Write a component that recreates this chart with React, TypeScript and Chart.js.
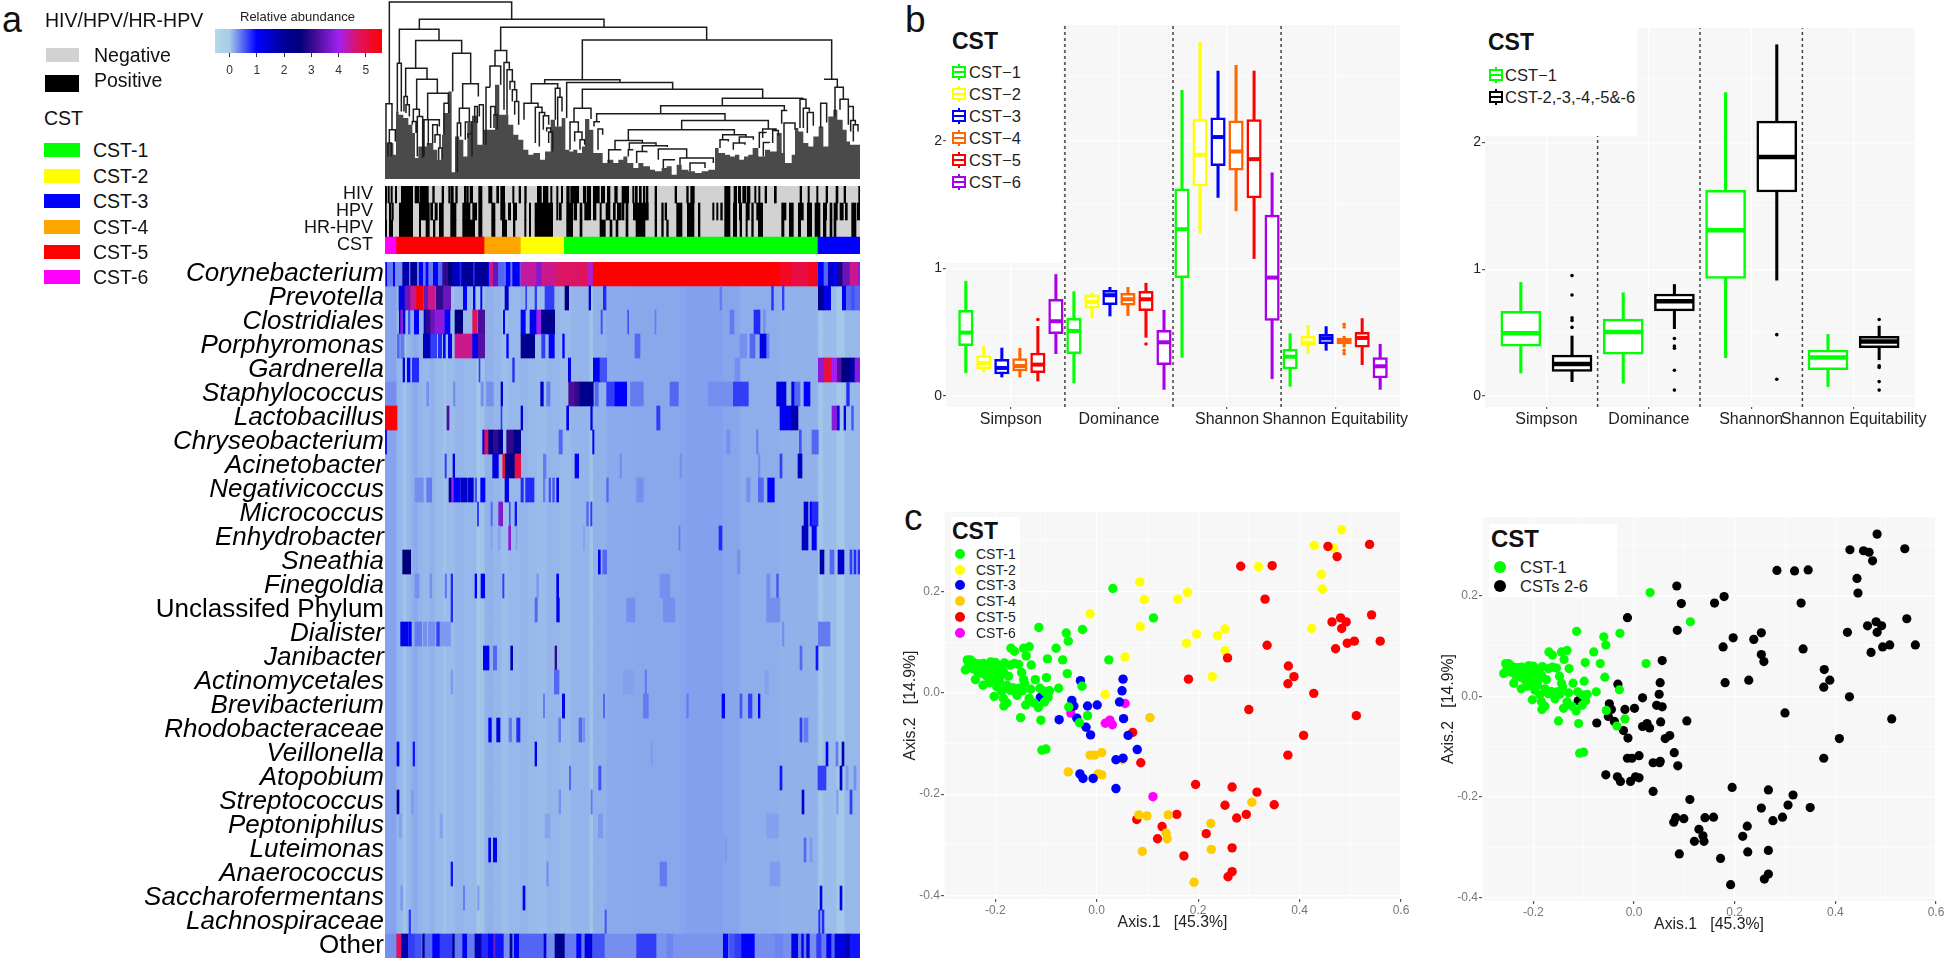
import React, { useEffect, useRef } from "react";
import { Chart, registerables } from "chart.js";

Chart.register(...registerables);
const SANS = "'Liberation Sans', Arial, sans-serif";
Chart.defaults.font.family = SANS;

// ---------- Panel a: heat map ----------
const taxa = ["Corynebacterium","Prevotella","Clostridiales","Porphyromonas","Gardnerella","Staphylococcus","Lactobacillus","Chryseobacterium","Acinetobacter","Negativicoccus","Micrococcus","Enhydrobacter","Sneathia","Finegoldia","Unclassifed Phylum","Dialister","Janibacter","Actinomycetales","Brevibacterium","Rhodobacteraceae","Veillonella","Atopobium","Streptococcus","Peptoniphilus","Luteimonas","Anaerococcus","Saccharofermentans","Lachnospiraceae","Other"];
const uprightTaxa = ["Unclassifed Phylum", "Other"];
const colorLevels = [-0.53, 0, 1, 2, 2.6, 3.2, 4, 4.7, 5.59];
const colorHexes = ["#B5D7EA", "#A8CCE8", "#0000FF", "#000099", "#00007A", "#4A0E9A", "#A020F0", "#DC1464", "#FF0000"];
const colorTicks = [0, 1, 2, 3, 4, 5];
const sampleMin = 15;
const sampleMax = 1440;
const baseBands = [[15,50,.2],[50,58,.12],[58,70,.1],[70,80,.04],[80,92,.1],[92,100,.13],[100,115,.16],[115,130,.12],[130,150,.1],[150,165,.13],[165,190,.09],[190,200,.05],[200,225,.08],[225,255,.12],[255,290,.1],[290,300,.03],[300,315,.05],[315,340,.13],[340,365,.11],[365,385,.07],[385,420,.1],[420,445,.12],[445,470,.1],[470,500,.08],[500,540,.11],[540,575,.09],[575,630,.12],[630,640,.04],[640,680,.13],[680,760,.17],[760,900,.18],[900,920,.2],[920,1030,.22],[1030,1080,.19],[1080,1200,.15],[1200,1315,.13],[1315,1330,.04],[1330,1370,.08],[1370,1395,.03],[1395,1440,.1]];
const heatStripes = [
 [[15,18,.5],[18,22,1],[22,40,.4],[40,46,1],[46,68,.3],[68,88,1.8],[88,92,.4],[92,112,2],[112,118,.4],[118,130,1],[130,138,.4],[138,146,1],[146,160,.4],[160,175,1],[175,188,.5],[188,205,3],[205,218,2.6],[218,240,1.6],[240,245,.8],[245,280,2],[280,285,.8],[285,325,2],[325,328,1],[328,340,4.5],[340,355,3.5],[355,362,.5],[362,375,.5],[375,378,.3],[378,392,1],[392,398,.4],[398,420,1.1],[420,423,.5],[423,470,4.4],[470,485,3.7],[485,530,4.5],[530,600,4.7],[600,625,4.8],[625,640,4.2],[640,1200,5.59],[1200,1235,5.3],[1235,1285,5],[1285,1315,5.3],[1315,1332,1],[1332,1345,.5],[1345,1360,1.5],[1360,1372,1],[1372,1388,2.8],[1388,1410,3.5],[1410,1435,4.5],[1435,1440,3.8]],
 [[57,75,1.3],[75,92,3.5],[92,110,4.5],[110,130,5.59],[132,145,3.5],[145,165,4.5],[168,188,3],[190,212,3.5],[250,260,1],[280,285,1],[302,306,1],[375,385,1.5],[437,440,.7],[465,470,.7],[495,522,.7],[555,566,2.5],[627,632,1.5],[670,678,.8],[1020,1025,.4],[1175,1180,.8],[1207,1212,.7],[1315,1332,2.2],[1332,1352,1.2],[1387,1398,1.2],[1400,1410,.5],[1412,1425,.6],[1425,1440,.5]],
 [[58,62,1.5],[62,70,3.8],[70,75,1.5],[85,90,.6],[103,116,1],[132,138,1.5],[138,152,3],[152,165,3.5],[165,195,3.8],[195,210,1],[225,248,2.5],[278,292,4.8],[295,314,3.2],[370,374,1],[423,436,1],[450,470,1.2],[470,484,4],[484,524,2.2],[663,667,.6],[743,746,.6],[825,828,.4],[1050,1062,.4],[1122,1140,.8],[1150,1156,.3]],
 [[52,58,.5],[62,72,.4],[130,152,1.7],[152,170,.7],[175,185,.8],[190,196,1],[205,215,1.3],[225,278,4.5],[278,295,1.1],[295,314,3.3],[380,385,1],[423,464,2.2],[485,495,.7],[507,523,1],[548,553,1],[765,780,.5],[1080,1100,.3],[1110,1125,.5],[1140,1160,1.2],[1160,1167,.4]],
 [[69,74,1.3],[82,90,1],[97,116,.8],[297,300,.7],[398,403,.8],[565,572,1.2],[640,660,1.1],[660,680,.6],[1065,1080,.3],[1315,1330,3.8],[1330,1355,5],[1355,1370,4],[1372,1385,3.3],[1385,1410,2.5],[1410,1425,1.8],[1425,1440,3.8]],
 [[15,48,.3],[140,146,.3],[220,225,.3],[303,310,.3],[320,340,.3],[363,368,1.5],[482,490,1.5],[500,510,.4],[566,585,3.2],[585,600,3],[600,640,2.2],[645,655,.5],[680,705,.7],[705,740,1],[752,790,.4],[870,895,.5],[985,1060,.3],[1060,1105,.7],[1190,1218,1.3],[1235,1243,1.2],[1245,1260,.5],[1272,1290,1],[1400,1408,.8]],
 [[15,51,5.59],[201,207,3.2],[363,366,.7],[423,428,1.5],[560,566,1.2],[632,637,1.3],[830,840,.7],[1200,1235,1.1],[1235,1254,1.8],[1356,1372,3.8],[1372,1378,1],[1392,1397,1.2],[1415,1420,.6]],
 [[15,20,.9],[308,314,1.2],[314,326,4.8],[326,340,2.2],[340,356,3],[356,368,2],[380,402,3],[402,422,2.2],[537,547,.5],[638,642,1.1],[1040,1050,.3],[1130,1134,.4],[1258,1264,.6],[1296,1315,.5]],
 [[195,199,.7],[219,224,1.2],[338,355,1.3],[368,376,5],[376,405,2.3],[405,422,5],[490,498,.4],[585,596,1],[720,725,.3],[900,905,.3],[1135,1140,.3],[1200,1206,.7],[1254,1266,1.6]],
 [[105,130,.3],[140,155,.4],[207,215,2],[215,222,4],[222,240,1],[242,262,1.5],[265,280,1.5],[285,290,.6],[302,315,1],[375,386,1.2],[423,430,.8],[437,462,.8],[490,495,.4],[507,512,.6],[518,523,.6],[530,536,1.2],[680,685,.5],[770,790,.3],[1100,1110,.3],[1135,1150,.5],[1163,1183,1]],
 [[292,296,.7],[333,337,.5],[356,368,3.7],[388,391,.6],[405,410,.9],[620,625,.5],[632,636,.7],[1272,1284,1.4],[1290,1296,1],[1296,1314,.8]],
 [[333,337,.2],[355,360,.2],[386,392,3.8],[408,412,.2],[610,614,.2],[897,900,.4],[1017,1026,.8],[1266,1284,1.6],[1296,1309,1.1]],
 [[68,92,2.6],[655,661,1.2],[668,680,.5],[1072,1080,.3],[1320,1332,1.8],[1350,1362,.5],[1374,1392,1.5],[1410,1416,.7],[1422,1428,.8],[1434,1440,.8]],
 [[105,117,.3],[150,155,.3],[195,200,.4],[213,218,.8],[285,290,1],[303,314,1.1],[368,372,.7],[470,476,.25],[530,536,1.1],[840,870,.3],[1160,1170,.3],[1190,1195,.6]],
 [[213,218,.8],[465,472,.5],[530,538,1.1],[740,765,.3],[850,885,.3],[1160,1200,.3]],
 [[62,84,1.2],[86,94,1],[105,125,.4],[130,140,.3],[145,165,.3],[170,180,.7],[180,212,.25],[1207,1212,.3],[1315,1350,.4]],
 [[310,327,1.1],[340,350,.5],[392,398,1.7],[525,530,3],[1260,1266,.5],[1308,1314,.9]],
 [[213,218,.25],[523,537,.5],[730,760,.22],[795,800,.4],[1155,1165,.22]],
 [[490,494,.4],[547,554,1.2],[670,674,.5],[790,805,.4],[920,925,.4],[1026,1034,1],[1080,1086,.6],[1105,1116,.7],[1135,1140,1]],
 [[326,334,1],[350,360,1.3],[387,395,.4],[410,420,.8],[536,542,.4],[597,605,.5],[608,614,.3],[1260,1266,.7],[1272,1284,.4]],
 [[51,57,1.1],[99,104,.9],[465,470,1.2],[813,817,.25],[1338,1344,1],[1368,1374,.4],[1386,1392,1.8]],
 [[568,572,.5],[656,663,.6],[1200,1206,.9],[1314,1338,.7],[1380,1386,1.5],[1398,1404,.25],[1422,1428,.3]],
 [[51,57,2],[95,100,.25],[537,542,.3],[633,637,.4],[1266,1272,1.5],[1370,1374,.25],[1410,1416,.7]],
 [[57,65,.2],[180,188,.2],[495,510,.2],[655,668,.25],[1160,1195,.22]],
 [[326,332,1.3],[340,350,1.2],[1035,1040,.25],[1272,1278,.5],[1290,1296,.25]],
 [[213,218,.9],[500,505,.3],[840,860,.4],[1170,1200,.24]],
 [[62,68,.25],[250,254,.4],[293,297,.25],[429,435,1.1],[1320,1326,1.2],[1380,1386,1.1]],
 [[87,92,.7],[675,679,.6],[1316,1320,.8],[1326,1332,.8]],
 [[15,50,.3],[50,65,4.7],[65,85,1.8],[85,105,.7],[105,125,.6],[125,128,.4],[128,135,2],[135,158,.5],[158,180,1],[180,218,.7],[218,225,2],[225,245,.4],[245,248,.4],[248,262,1.1],[262,285,.4],[285,305,1.7],[305,325,.8],[325,340,1],[340,348,3.5],[348,372,.9],[372,390,.3],[390,398,2],[398,403,.4],[403,418,1],[418,490,.5],[490,492,.5],[492,500,1.3],[500,525,.3],[525,555,2.2],[555,590,.4],[590,605,1],[605,615,.4],[615,638,1.3],[638,640,.5],[640,675,.6],[675,770,.3],[770,830,.7],[830,860,.28],[860,880,.35],[880,1030,.28],[1030,1045,1],[1045,1050,.5],[1050,1065,.6],[1065,1085,.7],[1085,1125,1],[1125,1185,.3],[1185,1210,.35],[1210,1235,.3],[1235,1255,1.2],[1255,1265,.4],[1265,1272,1.3],[1272,1280,.4],[1280,1290,1.3],[1290,1310,.3],[1310,1325,.7],[1325,1340,.4],[1340,1355,1.1],[1355,1365,.5],[1365,1400,1.3],[1400,1410,1.8],[1410,1440,.9]],
];

// ---------- Panel a: sample annotation ----------
const annotationRows = ["HIV", "HPV", "HR-HPV", "CST"];
const hivPositive = [[16,20],[24,28],[33,37],[46,50],[64,98],[105,117],[120,145],[158,163],[186,191],[206,211],[214,220],[227,232],[253,258],[260,265],[270,278],[296,306],[326,336],[350,356],[362,374],[398,402],[417,422],[434,439],[472,484],[490,504],[512,516],[530,534],[544,548],[560,568],[572,596],[610,618],[622,632],[640,658],[664,674],[682,690],[704,712],[726,746],[758,762],[766,772],[778,784],[790,794],[798,804],[825,830],[885,890],[920,925],[932,943],[1034,1050],[1062,1070],[1075,1082],[1088,1098],[1102,1110],[1124,1128],[1136,1140],[1155,1160],[1183,1189],[1260,1265],[1284,1288],[1310,1314],[1338,1343],[1368,1374],[1392,1397],[1436,1440]];
const hpvPositive = [[15,19],[28,33],[36,40],[58,98],[118,148],[152,158],[165,172],[178,190],[212,228],[248,270],[278,290],[296,306],[335,345],[362,375],[385,392],[400,410],[434,438],[448,452],[465,518],[530,534],[538,544],[560,578],[582,590],[600,606],[614,632],[640,648],[660,664],[678,690],[700,706],[712,722],[725,732],[738,744],[760,805],[825,830],[845,850],[855,860],[890,906],[922,942],[955,960],[998,1002],[1010,1014],[1022,1027],[1034,1050],[1060,1070],[1078,1085],[1098,1108],[1115,1120],[1130,1148],[1205,1218],[1228,1240],[1255,1270],[1282,1295],[1305,1320],[1330,1340],[1350,1356],[1362,1372],[1380,1390],[1396,1402],[1415,1428],[1432,1440]];
const hrHpvPositive = [[16,20],[28,38],[58,98],[118,122],[138,148],[160,165],[178,190],[212,228],[248,284],[296,306],[335,345],[367,380],[400,405],[434,438],[448,452],[465,518],[560,578],[600,606],[660,676],[690,696],[708,714],[738,744],[768,795],[825,830],[845,850],[860,865],[890,906],[922,942],[955,960],[1034,1050],[1060,1070],[1080,1085],[1098,1102],[1115,1120],[1135,1148],[1205,1212],[1228,1240],[1255,1262],[1282,1295],[1305,1320],[1330,1338],[1350,1356],[1362,1368],[1415,1428]];
const cstSpans = [[15,50,"#FF00FF"],[50,314,"#FF0000"],[314,423,"#FFA500"],[423,553,"#FFFF00"],[553,1314,"#00FF00"],[1314,1440,"#0000FF"]];

// ---------- Panel a: dendrogram (positions along samples, depth from top) ----------
const dendroDepthMax = 538;
const dendroCanopy = [[15,475],[40,430],[48,465],[56,335],[70,345],[85,355],[97,375],[105,400],[115,475],[140,440],[160,430],[172,450],[186,480],[190,405],[205,340],[215,275],[225,518],[238,410],[250,420],[262,470],[276,370],[292,348],[310,435],[325,390],[345,390],[358,255],[370,345],[385,345],[400,375],[415,405],[430,420],[445,450],[460,465],[480,460],[495,480],[512,455],[525,360],[545,380],[556,355],[568,450],[580,455],[592,450],[606,460],[615,440],[628,358],[640,390],[650,460],[668,460],[682,490],[700,480],[715,490],[730,480],[742,470],[760,490],[775,505],[790,490],[810,500],[825,510],[845,515],[860,505],[875,500],[890,525],[905,495],[925,510],[945,515],[965,520],[985,515],[1005,510],[1016,445],[1035,460],[1050,465],[1065,470],[1078,465],[1092,480],[1105,470],[1118,465],[1135,445],[1155,470],[1170,450],[1190,455],[1205,400],[1215,460],[1235,490],[1245,465],[1255,385],[1270,395],[1285,430],[1300,440],[1316,410],[1330,380],[1345,440],[1360,350],[1372,330],[1388,360],[1400,390],[1410,425],[1425,435],[1440,435]];
const dendroLinks = [[28,395,312,58,6],[118,672,88,82,58],[58,177,190,122,88],[107,245,205,160,122],[77,141,290,238,205],[110,172,328,280,238],[143,205,360,310,280],[218,272,275,252,160],[248,295,325,290,252],[362,980,152,120,82],[345,380,198,188,152],[330,362,262,255,198],[372,388,330,210,188],[381,397,345,245,210],[390,404,270,270,245],[397,410,305,305,270],[404,416,345,375,305],[607,1355,240,238,120],[494,720,252,248,240],[454,533,310,265,252],[432,474,360,322,310],[466,486,430,338,322],[478,494,440,348,338],[490,506,390,375,348],[500,512,395,400,385],[506,518,430,455,397],[526,540,360,292,265],[533,546,380,335,292],[560,878,355,268,248],[607,1148,325,295,268],[582,633,365,358,325],[570,595,450,397,367],[584,606,425,420,397],[600,614,450,435,420],[1027,1268,318,298,295],[842,1213,342,332,318],[650,1035,366,362,342],[642,660,380,366,366],[654,668,450,405,388],[905,1165,390,388,362],[745,1063,420,405,390],[705,787,450,428,422],[686,724,490,450,450],[748,828,450,438,430],[745,760,470,450,450],[787,862,455,442,438],[770,800,490,458,455],[835,920,480,475,448],[850,885,505,480,480],[900,1000,495,490,475],[930,975,515,505,490],[1028,1098,420,412,405],[1020,1045,445,425,420],[1078,1120,430,420,412],[1060,1095,450,435,430],[1148,1188,415,395,388],[1138,1158,445,400,398],[1150,1168,470,430,428],[1178,1195,430,408,392],[1205,1222,372,332,332],[1212,1245,460,390,370],[1260,1278,385,325,298],[1270,1288,385,335,325],[1282,1300,400,378,338],[1322,1340,385,368,310],[1332,1372,238,262,238],[1365,1390,350,298,262],[1380,1405,330,320,298],[1405,1420,375,362,320],[1412,1426,395,375,362],[1420,1434,425,395,375],[18,36,430,390,312],[28,46,430,425,390],[24,34,470,470,430],[52,64,335,335,190],[72,82,335,315,290],[78,88,340,350,315],[97,108,375,400,365],[100,118,365,350,328],[112,128,470,475,350],[132,165,470,360,360],[145,178,435,380,360],[158,172,430,405,375],[165,180,430,445,405],[176,186,480,480,445],[192,206,405,340,310],[232,242,518,410,370],[238,268,370,367,325],[256,276,420,402,367],[264,276,415,470,402],[284,292,370,370,320],[298,310,350,435,315],[318,330,435,262,262],[332,345,385,345,320],[342,352,385,390,345]];

// ---------- Panel b: diversity index box plots [low, q1, median, q3, high] ----------
const indexNames = ["Simpson", "Dominance", "Shannon", "Shannon Equitability"];
const cstNames = ["CST\u22121", "CST\u22122", "CST\u22123", "CST\u22124", "CST\u22125", "CST\u22126"];
const boxColors = ["#00FF00", "#FFFF00", "#0000FF", "#FF6600", "#FF0000", "#A800E8"];
const simpsonStats = [[.183,.395,.497,.672,.9],[.188,.214,.259,.316,.392],[.149,.173,.22,.288,.376],[.149,.196,.235,.293,.374],[.118,.183,.246,.337,.546],[.332,.489,.586,.758,.952]];
const dominanceStats = [[.102,.332,.51,.609,.818],[.612,.688,.737,.792,.808],[.627,.716,.79,.829,.852],[.63,.711,.758,.805,.852],[.46,.669,.758,.821,.884],[.052,.246,.421,.515,.672]];
const shannonStats = [[.303,.928,1.307,1.624,2.395],[1.273,1.647,1.89,2.17,2.771],[1.556,1.804,2.029,2.18,2.546],[1.451,1.77,1.916,2.157,2.591],[1.077,1.553,1.856,2.165,2.546],[.136,.593,.928,1.417,1.749]];
const equitabilityStats = [[.076,.212,.308,.366,.489],[.332,.397,.418,.468,.554],[.358,.41,.452,.484,.544],[.384,.408,.431,.452,.468],[.246,.382,.455,.499,.607],[.052,.141,.233,.301,.405]];
const outliersBySeries = [[], [], [], [[4,.562],[4,.541],[4,.358],[4,.332]], [[1,.599],[2,.408]], []];
const groupedColors = ["#00FF00", "#000000"];
const groupedNames = ["CST\u22121", "CST-2,-3,-4,-5&-6"];
const simpsonGrouped = [[.182,.393,.494,.668,.895],[.114,.195,.252,.322,.473]];
const dominanceGrouped = [[.101,.33,.505,.606,.814],[.531,.671,.746,.804,.879]];
const shannonGrouped = [[.302,.926,1.306,1.62,2.39],[.913,1.607,1.883,2.166,2.767]];
const equitabilityGrouped = [[.075,.208,.304,.362,.486],[.286,.382,.429,.471,.551]];
const groupedOutliers = [[1,.949],[1,.796],[1,.616],[1,.596],[1,.541],[2,.453],[2,.395],[2,.377],[2,.203],[2,.047],[3,.484],[3,.133],[4,.603],[4,.239],[4,.226],[4,.114],[4,.047]];

// ---------- Panel c: ordination ----------
const cst1Points = [[.032,.206],[.112,.148],[-.114,.129],[-.06,.118],[-.056,.102],[-.028,.125],[-.08,.088],[-.169,.088],[-.162,.082],[-.144,.088],[-.133,.091],[-.139,.073],[-.097,.067],[-.067,.065],[.024,.065],[-.129,.055],[-.058,.038],[-.099,.03],[-.121,.026],[-.148,.04],[-.029,.013],[-.075,.009],[-.255,.065],[-.249,.065],[-.259,.045],[-.252,.055],[-.245,.048],[-.237,.057],[-.23,.057],[-.223,.058],[-.209,.061],[-.204,.051],[-.194,.054],[-.189,.045],[-.182,.059],[-.17,.055],[-.162,.058],[-.154,.056],[-.235,.042],[-.225,.038],[-.239,.026],[-.216,.032],[-.224,.015],[-.204,.025],[-.191,.032],[-.174,.033],[-.197,.012],[-.177,.015],[-.187,.003],[-.17,.005],[-.153,.009],[-.142,.019],[-.144,.026],[-.13,.007],[-.147,.004],[-.157,-.005],[-.202,-.007],[-.184,-.011],[-.177,-.02],[-.183,-.026],[-.14,-.024],[-.133,-.011],[-.123,-.02],[-.115,-.029],[-.112,.009],[-.103,.003],[-.093,.004],[-.096,-.009],[-.103,-.018],[-.15,-.049],[-.11,-.054],[-.108,-.113],[-.1,-.111],[-.055,-.028],[-.018,-.045],[-.034,-.059],[-.215,.048],[-.221,.046],[-.198,.042],[-.21,.042],[-.184,.042],[-.243,.06],[-.23,.045],[-.218,.055],[-.2,.06],[-.192,.022],[-.212,.02],[-.165,.01]];
const cst2Points = [[.483,.322],[.429,.291],[.467,.286],[.319,.249],[.443,.234],[.445,.205],[.085,.219],[.094,.184],[.16,.185],[.179,.198],[-.013,.156],[.086,.131],[.424,.127],[.253,.126],[.197,.116],[.238,.113],[.177,.098],[.253,.083],[.056,.071],[.228,.032],[.017,-.003]];
const cst3Points = [[-.032,.024],[.052,.027],[.05,.004],[-.111,-.009],[-.049,-.015],[-.045,-.026],[-.018,-.026],[.001,-.024],[.045,-.018],[-.074,-.053],[-.039,-.05],[-.021,-.068],[-.012,-.083],[.053,-.051],[.062,-.084],[.08,-.112],[.052,-.129],[.038,-.132],[-.033,-.16],[-.027,-.169],[-.007,-.169],[.038,-.189]];
const cst4Points = [[.105,-.049],[.01,-.118],[-.004,-.123],[-.013,-.123],[-.056,-.156],[.003,-.16],[.01,-.162],[.051,-.132],[.306,-.216],[.083,-.241],[.099,-.243],[.141,-.241],[.225,-.258],[.137,-.277],[.139,-.288],[.226,-.309],[.09,-.313],[.192,-.374]];
const cst5Points = [[.284,.25],[.346,.251],[.456,.289],[.474,.269],[.538,.293],[.332,.185],[.464,.14],[.481,.148],[.492,.14],[.483,.127],[.542,.154],[.336,.094],[.508,.102],[.494,.098],[.559,.102],[.471,.087],[.258,.069],[.378,.053],[.389,.032],[.377,.018],[.181,.027],[.428,-.001],[.3,-.033],[.512,-.045],[.408,-.084],[.377,-.123],[.071,-.078],[.087,-.138],[.195,-.181],[.267,-.186],[.316,-.196],[.253,-.222],[.35,-.221],[.295,-.24],[.276,-.247],[.158,-.24],[.079,-.25],[.129,-.264],[.12,-.288],[.216,-.278],[.267,-.306],[.172,-.322],[.267,-.353],[.259,-.363]];
const cst6Points = [[.056,-.021],[-.051,-.04],[.017,-.06],[.026,-.054],[.031,-.063],[.111,-.205]];
const scatterColors = { c1: "#00FF00", c2: "#FFFF00", c3: "#0000FF", c4: "#FFCC00", c5: "#FF0000", c6: "#FF00FF" };
const axis1Ticks = [-0.2, 0, 0.2, 0.4, 0.6];
const axis2Ticks = [-0.4, -0.2, 0, 0.2];

// ---------- helpers ----------
const hexToRgb = (h: string) => [parseInt(h.slice(1, 3), 16), parseInt(h.slice(3, 5), 16), parseInt(h.slice(5, 7), 16)];
function heatColor(level: number) {
  for (let i = 1; i < colorLevels.length; i++) {
    if (level <= colorLevels[i]) {
      const t = (level - colorLevels[i - 1]) / (colorLevels[i] - colorLevels[i - 1]);
      const a = hexToRgb(colorHexes[i - 1]);
      const b = hexToRgb(colorHexes[i]);
      return `rgb(${a.map((v, k) => Math.round(v + (b[k] - v) * t)).join(",")})`;
    }
  }
  return colorHexes[colorHexes.length - 1];
}
const plotBg = { id: "plotBg", beforeDraw(chart: any) { const a = chart.chartArea; chart.ctx.save(); chart.ctx.fillStyle = "#F7F7F7"; chart.ctx.fillRect(a.left, a.top, a.width, a.height); chart.ctx.restore(); } };
const baseOpts = (padTop: number, padRight: number, padBottom = 0) => ({
  responsive: false, maintainAspectRatio: false, animation: false as const,
  layout: { padding: { top: padTop, right: padRight, left: 0, bottom: padBottom } },
  plugins: { legend: { display: false }, tooltip: { enabled: false } },
  events: [] as string[],
});

function Panel({ plot, axisW, axisH, padT, padR, make }: any) {
  const ref = useRef<HTMLCanvasElement>(null);
  const left = plot.l - axisW, top = plot.t - padT;
  const width = plot.r - plot.l + axisW + padR, height = plot.b - plot.t + padT + axisH;
  useEffect(() => {
    const c = new Chart(ref.current as any, make({ axisW, axisH, padT, padR }));
    return () => c.destroy();
  }, []);
  return <canvas ref={ref} width={width} height={height} style={{ position: "absolute", left, top, width, height }} />;
}

const Txt = ({ x, y, size, bold, color, children }: any) => (
  <span style={{ position: "absolute", left: x, top: y, transform: "translateY(-50%)", fontFamily: SANS, fontSize: size, fontWeight: bold ? 700 : 400, color: color || "#111", whiteSpace: "pre", lineHeight: 1 }}>{children}</span>
);
const Sw = ({ x, y, w, h, c }: any) => <div style={{ position: "absolute", left: x, top: y, width: w, height: h, background: c }} />;
const Dot = ({ x, y, d, c }: any) => <div style={{ position: "absolute", left: x - d / 2, top: y - d / 2, width: d, height: d, borderRadius: "50%", background: c }} />;
const BoxKey = ({ x, y, c }: any) => (
  <svg width={14} height={16} style={{ position: "absolute", left: x, top: y - 8 }}>
    <line x1={7} x2={7} y1={0} y2={16} stroke={c} strokeWidth={2} />
    <rect x={1} y={3} width={12} height={10} fill="#fff" stroke={c} strokeWidth={2} />
    <line x1={1} x2={13} y1={8} y2={8} stroke={c} strokeWidth={2} />
  </svg>
);

// ---------- chart configs ----------
function heatConfig({ axisW, axisH, padT }: any) {
  const base: any[] = [];
  const stripes: any[] = [];
  taxa.forEach((t, r) => {
    baseBands.forEach(([s, e, level]) => base.push({ y: t, x: [s, e], level }));
    heatStripes[r].forEach(([s, e, level]) => stripes.push({ y: t, x: [s, e], level }));
  });
  const color = (ctx: any) => (ctx.raw ? heatColor(ctx.raw.level) : "transparent");
  return {
    type: "bar",
    data: { labels: taxa, datasets: [
      { data: stripes, backgroundColor: color, grouped: false, barThickness: 24, order: 1 },
      { data: base, backgroundColor: color, grouped: false, barThickness: 24, order: 2 },
    ] },
    options: { ...baseOpts(padT, 0, axisH), indexAxis: "y",
      scales: {
        x: { type: "linear", min: sampleMin, max: sampleMax, display: false },
        y: { type: "category", afterFit: (s: any) => { s.width = axisW; }, grid: { display: false, drawTicks: false }, border: { display: false },
          ticks: { autoSkip: false, padding: 1, color: "#000", font: (ctx: any) => ({ family: SANS, size: 26, style: uprightTaxa.includes(taxa[ctx.index]) ? "normal" : "italic" }) } },
      } },
  };
}

function annotationConfig({ axisW, axisH, padT }: any) {
  const rows = [hivPositive, hpvPositive, hrHpvPositive];
  const gray = annotationRows.slice(0, 3).map((r) => ({ y: r, x: [sampleMin, sampleMax] }));
  const black: any[] = [];
  rows.forEach((spans, i) => spans.forEach(([s, e]) => black.push({ y: annotationRows[i], x: [s, e] })));
  const cst = cstSpans.map(([s, e, c]) => ({ y: "CST", x: [s, e], c }));
  return {
    type: "bar",
    data: { labels: annotationRows, datasets: [
      { data: cst, backgroundColor: (ctx: any) => ctx.raw?.c, grouped: false, barThickness: 17, order: 1 },
      { data: black, backgroundColor: "#000", grouped: false, barThickness: 17, order: 2 },
      { data: gray, backgroundColor: "#D2D2D2", grouped: false, barThickness: 17, order: 3 },
    ] },
    options: { ...baseOpts(padT, 0, axisH), indexAxis: "y",
      scales: {
        x: { type: "linear", min: sampleMin, max: sampleMax, display: false },
        y: { type: "category", afterFit: (s: any) => { s.width = axisW; }, grid: { display: false, drawTicks: false }, border: { display: false },
          ticks: { autoSkip: false, padding: 12, color: "#111", font: { size: 18 } } },
      } },
  };
}

function dendroConfig() {
  const links: any[] = [];
  dendroLinks.forEach(([xl, xr, yl, yr, top]) => {
    links.push({ x: xl, y: yl }, { x: xl, y: top }, { x: xr, y: top }, { x: xr, y: yr }, { x: null, y: null });
  });
  return {
    type: "scatter",
    data: { datasets: [
      { type: "scatter", data: links, showLine: true, spanGaps: false, borderColor: "#1c1c1c", borderWidth: 1.5, pointRadius: 0, order: 1 },
      { type: "line", data: dendroCanopy.map(([x, y]) => ({ x, y })), stepped: "after", fill: { value: dendroDepthMax }, backgroundColor: "#4A4A4A", borderWidth: 0, borderColor: "#4A4A4A", pointRadius: 0, order: 2 },
    ] },
    options: { ...baseOpts(0, 0),
      scales: {
        x: { type: "linear", min: sampleMin, max: sampleMax, display: false },
        y: { type: "linear", min: 0, max: dendroDepthMax, reverse: true, display: false },
      } },
  };
}

function colorbarConfig({ axisH, padT, padR }: any) {
  return {
    type: "bar",
    data: { labels: ["abundance"], datasets: [{
      data: [{ y: "abundance", x: [colorLevels[0], colorLevels[colorLevels.length - 1]] }], barThickness: 24, grouped: false,
      backgroundColor: (ctx: any) => {
        const a = ctx.chart.chartArea;
        if (!a) return "#00f";
        const g = ctx.chart.ctx.createLinearGradient(a.left, 0, a.right, 0);
        const lo = colorLevels[0], hi = colorLevels[colorLevels.length - 1];
        colorLevels.forEach((l, i) => g.addColorStop((l - lo) / (hi - lo), colorHexes[i]));
        return g;
      },
    }] },
    options: { ...baseOpts(padT, padR), indexAxis: "y",
      scales: {
        x: { type: "linear", min: colorLevels[0], max: colorLevels[colorLevels.length - 1],
          afterFit: (s: any) => { s.height = axisH; },
          afterBuildTicks: (s: any) => { s.ticks = colorTicks.map((value) => ({ value })); },
          grid: { drawOnChartArea: false, tickLength: 4, color: "#333" }, border: { display: false },
          ticks: { padding: 6, color: "#333", font: { size: 12 }, autoSkip: false, maxRotation: 0 } },
        y: { type: "category", display: false },
      } },
  };
}

function boxConfig(stats: number[][][], colors: string[], offsets: number[], boxW: number, medW: number, outliers: any[], outlierColors: string[], yRange: number[]) {
  return ({ axisW, axisH, padT, padR }: any) => {
    const ds: any[] = [];
    colors.forEach((c, i) => {
      const pts = stats.map((g, k) => ({ x: k + 1 + offsets[i], s: g[i] }));
      ds.push({ type: "scatter", data: pts.map((p) => ({ x: p.x, y: p.s[2] })), pointStyle: "line", pointRadius: boxW / 2 - 0.5, pointBorderWidth: medW, pointBorderColor: c, borderColor: c, order: 1 });
      ds.push({ type: "bar", data: pts.map((p) => ({ x: p.x, y: [p.s[1], p.s[3]] })), backgroundColor: "#fff", borderColor: c, borderWidth: 2.5, borderSkipped: false, barThickness: boxW, grouped: false, order: 2 });
      ds.push({ type: "bar", data: pts.map((p) => ({ x: p.x, y: [p.s[0], p.s[4]] })), backgroundColor: c, barThickness: 2.4, grouped: false, order: 3 });
      ds.push({ type: "scatter", data: outliers[i].map(([g, v]: number[]) => ({ x: g + offsets[i], y: v })), pointRadius: 1.8, pointBackgroundColor: outlierColors[i], pointBorderWidth: 0, order: 1 });
    });
    [1.5, 2.5, 3.5].forEach((x) => ds.push({ type: "line", data: [{ x, y: yRange[0] }, { x, y: yRange[1] }], borderColor: "#444", borderWidth: 1.5, borderDash: [3, 3], pointRadius: 0, order: 4 }));
    return {
      type: "bar",
      data: { datasets: ds },
      options: { ...baseOpts(padT, padR),
        scales: {
          x: { type: "linear", offset: false, min: 0.4, max: 4.6, afterFit: (s: any) => { s.height = axisH; },
            afterBuildTicks: (s: any) => { s.ticks = [1, 2, 3, 4].map((value) => ({ value })); },
            grid: { offset: false, color: "#fff", lineWidth: 1.2, tickColor: "#555", tickLength: 2 }, border: { display: false },
            ticks: { autoSkip: false, maxRotation: 0, padding: 1, color: "#222", font: { size: 16 }, callback: (v: number) => indexNames[v - 1] } },
          y: { type: "linear", min: yRange[0], max: yRange[1], afterFit: (s: any) => { s.width = axisW; },
            afterBuildTicks: (s: any) => { s.ticks = [0, .5, 1, 1.5, 2, 2.5].map((value) => ({ value })); },
            grid: { color: "#fff", tickLength: 3, lineWidth: (ctx: any) => (ctx.tick && ctx.tick.value % 1 === 0 ? 1.2 : 0.6), tickColor: (ctx: any) => (ctx.tick && ctx.tick.value % 1 === 0 ? "#555" : "transparent") }, border: { display: false },
            ticks: { autoSkip: false, padding: 1, color: "#222", font: { size: 14 }, callback: (v: number) => (v % 1 === 0 ? String(v) : "") } },
        } },
      plugins: [plotBg],
    };
  };
}

function scatterConfig(sets: any[], xRange: number[], yRange: number[], radius: number) {
  return ({ axisW, axisH, padT, padR }: any) => ({
    type: "scatter",
    data: { datasets: sets.map(([points, color]) => ({ data: points.map(([x, y]: number[]) => ({ x, y })), backgroundColor: color, pointRadius: radius, pointBorderWidth: 0 })) },
    options: { ...baseOpts(padT, padR),
      scales: {
        x: { type: "linear", min: xRange[0], max: xRange[1], afterFit: (s: any) => { s.height = axisH; },
          afterBuildTicks: (s: any) => { s.ticks = [-.3, -.2, -.1, 0, .1, .2, .3, .4, .5, .6].map((value) => ({ value })); },
          grid: { color: "#fff", tickLength: 3, lineWidth: (c: any) => (c.tick && axis1Ticks.some((t) => Math.abs(t - c.tick.value) < 1e-6) ? 1.2 : 0.6), tickColor: (c: any) => (c.tick && axis1Ticks.some((t) => Math.abs(t - c.tick.value) < 1e-6) ? "#555" : "transparent") }, border: { display: false },
          title: { display: true, text: "Axis.1   [45.3%]", color: "#222", font: { size: 15.8 }, padding: 0 },
          ticks: { autoSkip: false, maxRotation: 0, padding: 1, color: "#777", font: { size: 12 }, callback: (v: number) => (axis1Ticks.some((t) => Math.abs(t - v) < 1e-6) ? v.toFixed(1) : "") } },
        y: { type: "linear", min: yRange[0], max: yRange[1], afterFit: (s: any) => { s.width = axisW; },
          afterBuildTicks: (s: any) => { s.ticks = [-.4, -.3, -.2, -.1, 0, .1, .2, .3].map((value) => ({ value })); },
          grid: { color: "#fff", tickLength: 3, lineWidth: (c: any) => (c.tick && axis2Ticks.some((t) => Math.abs(t - c.tick.value) < 1e-6) ? 1.2 : 0.6), tickColor: (c: any) => (c.tick && axis2Ticks.some((t) => Math.abs(t - c.tick.value) < 1e-6) ? "#555" : "transparent") }, border: { display: false },
          title: { display: true, text: "Axis.2   [14.9%]", color: "#222", font: { size: 15.8 }, padding: 0 },
          ticks: { autoSkip: false, padding: 1, color: "#777", font: { size: 12 }, callback: (v: number) => (axis2Ticks.some((t) => Math.abs(t - v) < 1e-6) ? v.toFixed(1) : "") } },
      } },
    plugins: [plotBg],
  });
}

const bStats = [simpsonStats, dominanceStats, shannonStats, equitabilityStats];
const bGrouped = [simpsonGrouped, dominanceGrouped, shannonGrouped, equitabilityGrouped];
const legendColors = ["#00FF00", "#FFFF00", "#0000FF", "#FFA500", "#FF0000", "#FF00FF"];
const legendNames = ["CST-1", "CST-2", "CST-3", "CST-4", "CST-5", "CST-6"];
const legendSwatchTops = [143, 169, 194, 220, 245, 270];
const bLegendYs = [72, 94, 116, 138, 160, 182];
const cLegendYs = [554, 570, 585, 601, 617, 633];
const cLegendColors = [scatterColors.c1, scatterColors.c2, scatterColors.c3, scatterColors.c4, scatterColors.c5, scatterColors.c6];
const otherPoints = [...cst2Points, ...cst3Points, ...cst4Points, ...cst5Points, ...cst6Points];

export default function App() {
  return (
    <div style={{ position: "absolute", left: 0, top: 0, width: 1946, height: 961, overflow: "hidden", background: "#fff" }}>
      {/* panel a */}
      <Panel plot={{ l: 385, t: 0, r: 860, b: 179 }} axisW={0} axisH={0} padT={0} padR={0} make={dendroConfig} />
      <Panel plot={{ l: 385, t: 186, r: 860, b: 254 }} axisW={105} axisH={32} padT={32} padR={0} make={annotationConfig} />
      <Panel plot={{ l: 385, t: 262, r: 860, b: 958 }} axisW={250} axisH={24} padT={24} padR={0} make={heatConfig} />
      <Panel plot={{ l: 215, t: 29, r: 382, b: 53 }} axisW={0} axisH={28} padT={0} padR={10} make={colorbarConfig} />
      <Txt x={240} y={16} size={13} color="#222">Relative abundance</Txt>
      <Txt x={2} y={20} size={36}>a</Txt>
      <Txt x={45} y={21} size={19.5}>HIV/HPV/HR-HPV</Txt>
      <Sw x={46} y={48} w={33} h={14} c="#D2D2D2" />
      <Sw x={45} y={75} w={34} h={17} c="#000" />
      <Txt x={94} y={56} size={19.5}>Negative</Txt>
      <Txt x={94} y={81} size={19.5}>Positive</Txt>
      <Txt x={44} y={119} size={19.5}>CST</Txt>
      {legendNames.map((n, i) => (
        <React.Fragment key={n}>
          <Sw x={44} y={legendSwatchTops[i]} w={36} h={14} c={legendColors[i]} />
          <Txt x={93} y={legendSwatchTops[i] + 8} size={19.5}>{n}</Txt>
        </React.Fragment>
      ))}

      {/* panel b */}
      <Txt x={905} y={19} size={37}>b</Txt>
      <Panel plot={{ l: 946, t: 25, r: 1400, b: 407 }} axisW={20} axisH={30} padT={20} padR={90}
        make={boxConfig(bStats, boxColors, [-2.5, -1.5, -.5, .5, 1.5, 2.5].map((v) => v / 6), 14.5, 4, outliersBySeries, boxColors, [-0.086, 2.907])} />
      <div style={{ position: "absolute", left: 946, top: 25, width: 116, height: 238, background: "#fff" }} />
      <Txt x={952} y={41} size={23} bold>CST</Txt>
      {cstNames.map((n, i) => (
        <React.Fragment key={n}>
          <BoxKey x={952} y={bLegendYs[i]} c={boxColors[i]} />
          <Txt x={969} y={bLegendYs[i]} size={16.5} color="#222">{n}</Txt>
        </React.Fragment>
      ))}
      <Panel plot={{ l: 1481, t: 24, r: 1915, b: 407 }} axisW={20} axisH={30} padT={20} padR={31}
        make={boxConfig(bGrouped, groupedColors, [-.25, .25], 40, 4.5, [[], groupedOutliers], groupedColors, [-0.086, 2.899])} />
      <div style={{ position: "absolute", left: 1483, top: 27, width: 154, height: 109, background: "#fff" }} />
      <Txt x={1488} y={42} size={23} bold>CST</Txt>
      {groupedNames.map((n, i) => (
        <React.Fragment key={n}>
          <BoxKey x={1489} y={75 + i * 22} c={groupedColors[i]} />
          <Txt x={1505} y={75 + i * 22} size={16.5} color="#222">{n}</Txt>
        </React.Fragment>
      ))}

      {/* panel c */}
      <Txt x={904} y={517} size={37}>c</Txt>
      <Panel plot={{ l: 944, t: 512, r: 1401, b: 899 }} axisW={43} axisH={33} padT={20} padR={30}
        make={scatterConfig([[cst1Points, scatterColors.c1], [cst3Points, scatterColors.c3], [cst6Points, scatterColors.c6], [cst4Points, scatterColors.c4], [cst5Points, scatterColors.c5], [cst2Points, scatterColors.c2]], [-0.301, 0.6], [-0.407, 0.357], 4.7)} />
      <div style={{ position: "absolute", left: 951, top: 517, width: 69, height: 122, background: "#fff" }} />
      <Txt x={952} y={531} size={23} bold>CST</Txt>
      {legendNames.map((n, i) => (
        <React.Fragment key={n}>
          <Dot x={960} y={cLegendYs[i]} d={10} c={cLegendColors[i]} />
          <Txt x={976} y={cLegendYs[i]} size={14} color="#222">{n}</Txt>
        </React.Fragment>
      ))}
      <Panel plot={{ l: 1482, t: 517, r: 1936, b: 901 }} axisW={43} axisH={33} padT={20} padR={10}
        make={scatterConfig([[cst1Points, scatterColors.c1], [otherPoints, "#000000"]], [-0.302, 0.6], [-0.4065, 0.356], 4.6)} />
      <div style={{ position: "absolute", left: 1489, top: 524, width: 128, height: 73, background: "#fff" }} />
      <Txt x={1491} y={539} size={24} bold>CST</Txt>
      <Dot x={1500} y={567} d={12} c="#00FF00" />
      <Dot x={1500} y={586} d={12} c="#000" />
      <Txt x={1520} y={567} size={16.5} color="#222">CST-1</Txt>
      <Txt x={1520} y={586} size={16.5} color="#222">CSTs 2-6</Txt>
    </div>
  );
}
